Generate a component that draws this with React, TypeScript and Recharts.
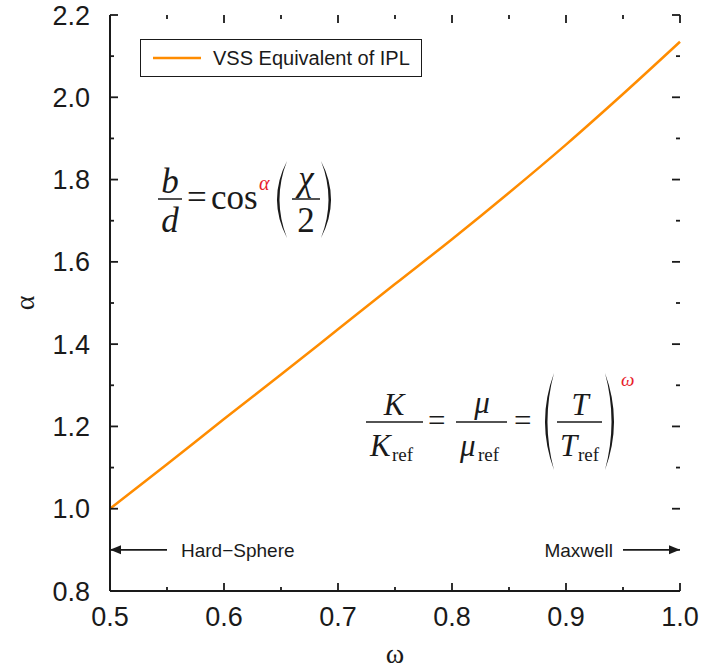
import React from 'react';
import { LineChart, Line, XAxis, YAxis, Legend, ReferenceLine, Customized } from 'recharts';

const omega = [0.5, 0.55, 0.6, 0.65, 0.7, 0.75, 0.8, 0.85, 0.9, 0.95, 1.0];
const alpha = [1.0, 1.108, 1.218, 1.326, 1.436, 1.546, 1.655, 1.768, 1.885, 2.008, 2.135];

const xTicks = [0.5, 0.55, 0.6, 0.65, 0.7, 0.75, 0.8, 0.85, 0.9, 0.95, 1.0];
const yTicks = [0.8, 0.9, 1.0, 1.1, 1.2, 1.3, 1.4, 1.5, 1.6, 1.7, 1.8, 1.9, 2.0, 2.1, 2.2];

const seriesName = 'VSS Equivalent of IPL';
const hardSphere = [{ x: 0.55, y: 0.9 }, { x: 0.5, y: 0.9 }];
const maxwell = [{ x: 0.95, y: 0.9 }, { x: 1.0, y: 0.9 }];

const data = omega.map((w, i) => ({ omega: w, alpha: alpha[i] }));

const X_MIN = 0.5;
const X_MAX = 1.0;
const Y_MIN = 0.8;
const Y_MAX = 2.2;

const W = 701;
const H = 669;
const MARGIN = { top: 15, right: 21, left: 0, bottom: 0 };
const Y_AXIS_W = 110;
const X_AXIS_H = 78;

// plot frame derived from the chart layout above
const PLOT = {
  left: MARGIN.left + Y_AXIS_W,
  top: MARGIN.top,
  right: W - MARGIN.right,
  bottom: H - MARGIN.bottom - X_AXIS_H,
};

const INK = '#1a1a1a';
const ORANGE = '#ff8c00';
const RED = '#e8202a';
const SANS = '"Liberation Sans", Arial, sans-serif';
const SERIF = '"Liberation Serif", "Times New Roman", serif';

// major tick on every 0.1 for x, every 0.2 for y
const isMajorX = (v: number) => Math.abs(v * 10 - Math.round(v * 10)) < 1e-6;
const isMajorY = (v: number) => Math.abs(v * 5 - Math.round(v * 5)) < 1e-6;

const BottomTick = (props: any) => {
  const { x, y, payload } = props;
  if (!isMajorX(payload.value)) return <g />;
  return (
    <text x={x} y={y + 21} textAnchor="middle" fontSize={27} fontFamily={SANS} fill={INK}>
      {payload.value.toFixed(1)}
    </text>
  );
};

const LeftTick = (props: any) => {
  const { x, y, payload } = props;
  if (!isMajorY(payload.value)) return <g />;
  return (
    <text x={x} y={y + 9.5} textAnchor="end" fontSize={27} fontFamily={SANS} fill={INK}>
      {payload.value.toFixed(1)}
    </text>
  );
};

// inward tick marks on all four sides, laid over the chart
const FrameTicks = () => {
  const { left, top, right, bottom } = PLOT;
  const px = (v: number) => left + ((v - X_MIN) / (X_MAX - X_MIN)) * (right - left);
  const py = (v: number) => bottom - ((v - Y_MIN) / (Y_MAX - Y_MIN)) * (bottom - top);
  const marks: React.ReactNode[] = [];
  xTicks.forEach((v, i) => {
    const len = isMajorX(v) ? 8 : 4;
    const x = px(v);
    marks.push(<line key={`b${i}`} x1={x} x2={x} y1={bottom} y2={bottom - len} />);
    marks.push(<line key={`t${i}`} x1={x} x2={x} y1={top} y2={top + len} />);
  });
  yTicks.forEach((v, i) => {
    const len = isMajorY(v) ? 8 : 4;
    const y = py(v);
    marks.push(<line key={`l${i}`} x1={left} x2={left + len} y1={y} y2={y} />);
    marks.push(<line key={`r${i}`} x1={right} x2={right - len} y1={y} y2={y} />);
  });
  return (
    <svg
      width={W}
      height={H}
      style={{ position: 'absolute', left: 0, top: 0, pointerEvents: 'none', zIndex: 5 }}
    >
      <g stroke={INK} strokeWidth={1.8}>{marks}</g>
    </svg>
  );
};

const makeArrow = (text: string, side: 'left' | 'right') => (props: any) => {
  const { x1, y1, x2, y2 } = props;
  const dir = x2 > x1 ? 1 : -1;
  const head = 11;
  return (
    <g>
      <line x1={x1} y1={y1} x2={x2 - dir * head} y2={y2} stroke={INK} strokeWidth={1.6} />
      <polygon
        points={`${x2},${y2} ${x2 - dir * head},${y2 - 4.5} ${x2 - dir * head},${y2 + 4.5}`}
        fill={INK}
      />
      <text
        x={side === 'left' ? x1 + 14 : x1 - 10}
        y={y1 + 7}
        textAnchor={side === 'left' ? 'start' : 'end'}
        fontSize={19}
        fontFamily={SANS}
        fill={INK}
      >
        {text}
      </text>
    </g>
  );
};

// crescent-shaped parenthesis
const Paren = ({ x, top, bottom, bulge, open }: any) => {
  const mid = (top + bottom) / 2;
  const c = open ? x - bulge * 2 : x + bulge * 2;
  const c2 = open ? c + 5 : c - 5;
  return (
    <path
      d={`M${x},${top} Q${c},${mid} ${x},${bottom} Q${c2},${mid} ${x},${top} Z`}
      fill={INK}
    />
  );
};

const Equations = () => (
  <g fontFamily={SERIF} fill={INK}>
    {/* b/d = cos^alpha (chi/2) */}
    <text x={170} y={193} fontSize={35} fontStyle="italic" textAnchor="middle">b</text>
    <line x1={158} x2={182} y1={199} y2={199} stroke={INK} strokeWidth={1.5} />
    <text x={170} y={232} fontSize={35} fontStyle="italic" textAnchor="middle">d</text>
    <text x={187} y={209} fontSize={35}>=</text>
    <text x={211} y={209} fontSize={35}>cos</text>
    <text x={259} y={190} fontSize={20} fontStyle="italic" fill={RED}>α</text>
    <Paren x={287} top={161} bottom={238} bulge={10} open />
    <text x={306} y={190} fontSize={35} fontStyle="italic" textAnchor="middle">χ</text>
    <line x1={292} x2={320} y1={199} y2={199} stroke={INK} strokeWidth={1.5} />
    <text x={306} y={232} fontSize={35} textAnchor="middle">2</text>
    <Paren x={321} top={161} bottom={238} bulge={10} open={false} />

    {/* K/Kref = mu/muref = (T/Tref)^omega */}
    <text x={394} y={415} fontSize={31} fontStyle="italic" textAnchor="middle">K</text>
    <line x1={366} x2={423} y1={422} y2={422} stroke={INK} strokeWidth={1.5} />
    <text x={370} y={456} fontSize={31} fontStyle="italic">K</text>
    <text x={392} y={461} fontSize={19}>ref</text>
    <text x={428} y={431} fontSize={31}>=</text>
    <text x={482} y={413} fontSize={31} fontStyle="italic" textAnchor="middle">μ</text>
    <line x1={456} x2={507} y1={422} y2={422} stroke={INK} strokeWidth={1.5} />
    <text x={460} y={456} fontSize={31} fontStyle="italic">μ</text>
    <text x={478} y={461} fontSize={19}>ref</text>
    <text x={514} y={431} fontSize={31}>=</text>
    <Paren x={554} top={373} bottom={470} bulge={9} open />
    <text x={580} y={415} fontSize={31} fontStyle="italic" textAnchor="middle">T</text>
    <line x1={557} x2={602} y1={422} y2={422} stroke={INK} strokeWidth={1.5} />
    <text x={560} y={456} fontSize={31} fontStyle="italic">T</text>
    <text x={578} y={461} fontSize={19}>ref</text>
    <Paren x={605} top={373} bottom={470} bulge={9} open={false} />
    <text x={621} y={386} fontSize={19} fontStyle="italic" fill={RED}>ω</text>
  </g>
);

const LegendBox = () => (
  <div
    style={{
      width: 282,
      height: 38,
      boxSizing: 'border-box',
      border: `1.6px solid ${INK}`,
      background: '#fff',
      display: 'flex',
      alignItems: 'center',
      fontFamily: SANS,
      fontSize: 20,
      color: INK,
    }}
  >
    <svg width={72} height={20} style={{ flex: 'none' }}>
      <line x1={12} x2={60} y1={10} y2={10} stroke={ORANGE} strokeWidth={2.5} />
    </svg>
    <span>{seriesName}</span>
  </div>
);

export default function App() {
  return (
    <div style={{ position: 'absolute', left: 0, top: 0, width: W, height: H, background: '#fff' }}>
      <LineChart width={W} height={H} data={data} margin={MARGIN}>
        <XAxis
          xAxisId="b"
          dataKey="omega"
          type="number"
          domain={[X_MIN, X_MAX]}
          ticks={xTicks}
          interval={0}
          tickSize={0}
          tickMargin={14}
          tickLine={false}
          tick={<BottomTick />}
          height={X_AXIS_H}
          axisLine={{ stroke: INK, strokeWidth: 2 }}
          label={{ value: 'ω', position: 'insideBottom', offset: 6, fontSize: 28, fontFamily: SERIF, fill: INK }}
        />
        <XAxis
          xAxisId="t"
          orientation="top"
          type="number"
          domain={[X_MIN, X_MAX]}
          tick={false}
          tickLine={false}
          height={0}
          axisLine={{ stroke: INK, strokeWidth: 2 }}
        />
        <YAxis
          yAxisId="l"
          type="number"
          domain={[Y_MIN, Y_MAX]}
          ticks={yTicks}
          interval={0}
          tickSize={0}
          tickMargin={20}
          tickLine={false}
          tick={<LeftTick />}
          width={Y_AXIS_W}
          axisLine={{ stroke: INK, strokeWidth: 2 }}
          label={(p: any) => {
            const vb = p.viewBox;
            const cx = vb.x + 24;
            const cy = vb.y + vb.height / 2;
            return (
              <text
                x={cx}
                y={cy}
                transform={`rotate(-90 ${cx} ${cy})`}
                textAnchor="middle"
                dominantBaseline="central"
                fontSize={28}
                fontFamily={SERIF}
                fill={INK}
              >
                α
              </text>
            );
          }}
        />
        <YAxis
          yAxisId="r"
          orientation="right"
          type="number"
          domain={[Y_MIN, Y_MAX]}
          tick={false}
          tickLine={false}
          width={0}
          axisLine={{ stroke: INK, strokeWidth: 2 }}
        />
        <Legend
          layout="horizontal"
          verticalAlign="middle"
          align="center"
          content={() => <LegendBox />}
          wrapperStyle={{ left: 140, top: 39, width: 282 }}
        />
        <ReferenceLine xAxisId="b" yAxisId="l" segment={hardSphere} shape={makeArrow('Hard−Sphere', 'left')} />
        <ReferenceLine xAxisId="b" yAxisId="l" segment={maxwell} shape={makeArrow('Maxwell', 'right')} />
        <Line
          xAxisId="b"
          yAxisId="l"
          type="monotone"
          dataKey="alpha"
          name={seriesName}
          stroke={ORANGE}
          strokeWidth={2.5}
          dot={false}
          isAnimationActive={false}
        />
        <Customized component={Equations} />
      </LineChart>
      <FrameTicks />
    </div>
  );
}
